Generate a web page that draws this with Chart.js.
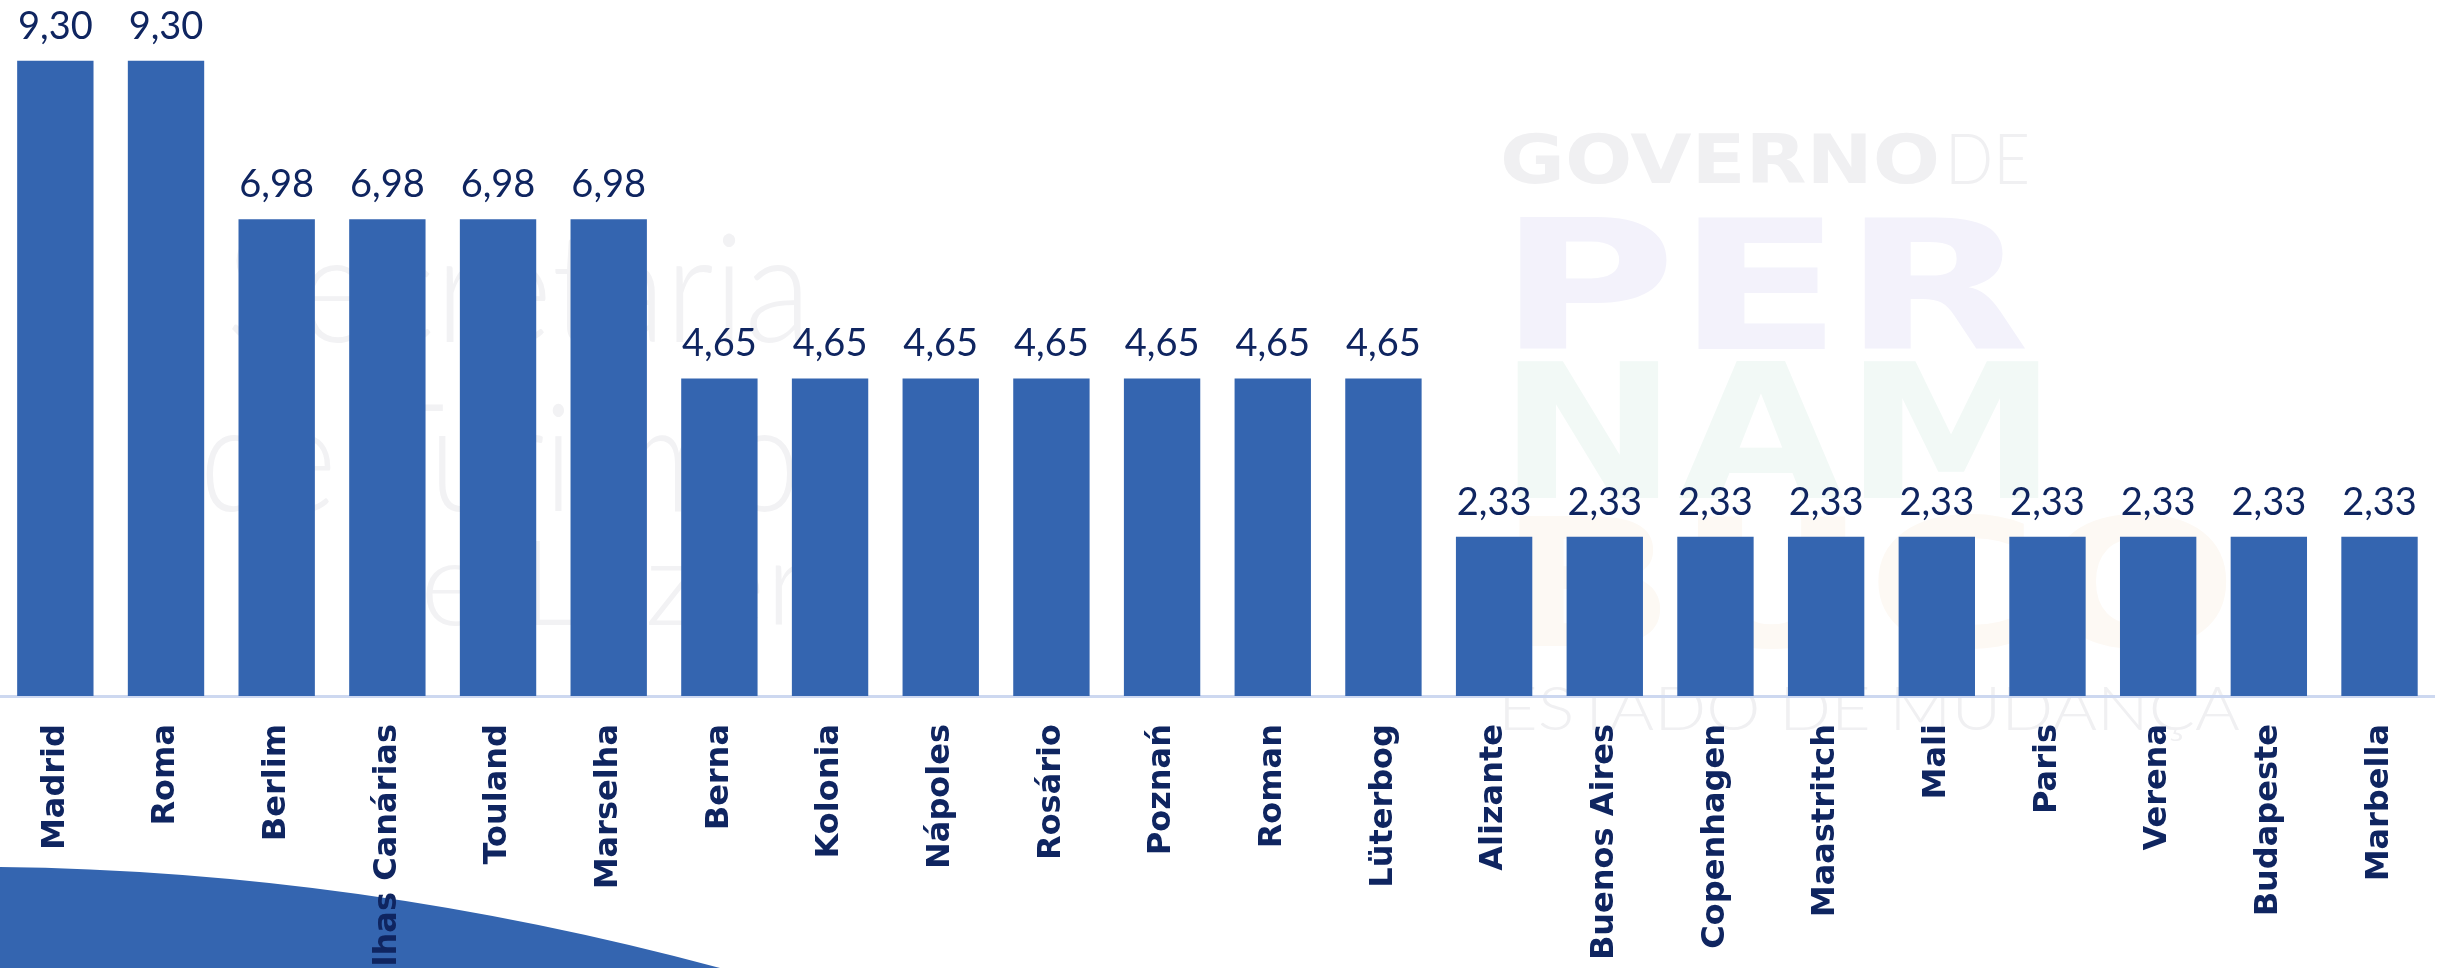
<!DOCTYPE html>
<html>
<head>
<meta charset="utf-8">
<script src="https://cdn.jsdelivr.net/npm/chart.js@4.4.1/dist/chart.umd.min.js"></script>
<style>
    html, body { margin: 0; padding: 0; background: #ffffff; }
    #wrap { width: 2446px; height: 968px; position: relative; }
</style>
</head>
<body>
<div id="wrap"><canvas id="destinosChart"></canvas></div>
<script>
// Dados do gráfico
const cidades = ['Madrid', 'Roma', 'Berlim', 'Ilhas Canárias', 'Touland', 'Marselha', 'Berna', 'Kolonia',
    'Nápoles', 'Rosário', 'Poznań', 'Roman', 'Lüterbog', 'Alizante', 'Buenos Aires', 'Copenhagen',
    'Maastritch', 'Mali', 'Paris', 'Verena', 'Budapeste', 'Marbella'];
const percentuais = [9.30, 9.30, 6.98, 6.98, 6.98, 6.98, 4.65, 4.65, 4.65, 4.65, 4.65, 4.65, 4.65,
    2.33, 2.33, 2.33, 2.33, 2.33, 2.33, 2.33, 2.33, 2.33];
const eixoY = { min: 0, max: 10 };

const azulBarra = '#3465b0';
const azulTexto = '#0f2560';

// escreve um texto esticado dentro de uma caixa (marca d'água)
function textoNaCaixa(ctx, txt, x, y, w, h, font, color) {
    ctx.save();
    ctx.font = font;
    ctx.fillStyle = color;
    ctx.textBaseline = 'alphabetic';
    const m = ctx.measureText(txt);
    const asc = m.actualBoundingBoxAscent;
    const desc = m.actualBoundingBoxDescent;
    ctx.translate(x, y);
    ctx.scale(w / m.width, h / (asc + desc));
    ctx.fillText(txt, 0, asc);
    ctx.restore();
}

// fundo: marca d'água e forma azul no canto
const fundoPlugin = {
    id: 'fundo',
    beforeDraw(chart) {
        const ctx = chart.ctx;
        ctx.save();
        ctx.fillStyle = '#ffffff';
        ctx.fillRect(0, 0, chart.width, chart.height);

        const leve = '300 100px Lato';
        textoNaCaixa(ctx, 'Secretaria', 226, 232, 585, 112, leve, '#f2f2f4');
        textoNaCaixa(ctx, 'de Turismo', 200, 400, 600, 112, leve, '#f2f2f4');
        textoNaCaixa(ctx, 'e Lazer', 420, 540, 390, 86, leve, '#f2f2f4');

        textoNaCaixa(ctx, 'GOVERNO', 1500, 133, 440, 51, 'bold 100px "DejaVu Sans"', '#f0f0f2');
        textoNaCaixa(ctx, 'DE', 1945, 133, 85, 51, '300 100px Lato', '#f0f0f2');
        textoNaCaixa(ctx, 'PER', 1498, 218, 532, 133, 'bold 100px "DejaVu Sans"', '#f3f2fb');
        textoNaCaixa(ctx, 'NAM', 1498, 362, 560, 138, 'bold 100px "DejaVu Sans"', '#f2f9f6');
        textoNaCaixa(ctx, 'BUCO', 1498, 512, 740, 136, 'bold 100px "DejaVu Sans"', '#fdf9f4');
        textoNaCaixa(ctx, 'ESTADO DE MUDANÇA', 1498, 686, 742, 55, '300 100px Lato', '#f0f0f2');

        // forma azul inferior esquerda
        ctx.beginPath();
        ctx.moveTo(0, 867);
        ctx.quadraticCurveTo(360, 871, 720, 968);
        ctx.lineTo(0, 968);
        ctx.closePath();
        ctx.fillStyle = azulBarra;
        ctx.fill();
        ctx.restore();
    }
};

// rótulos de valor acima das barras
const rotulosPlugin = {
    id: 'rotulos',
    afterDatasetsDraw(chart) {
        const ctx = chart.ctx;
        const meta = chart.getDatasetMeta(0);
        ctx.save();
        ctx.font = '38px Lato';
        ctx.fillStyle = azulTexto;
        ctx.textAlign = 'center';
        ctx.textBaseline = 'alphabetic';
        meta.data.forEach((bar, i) => {
            const txt = percentuais[i].toFixed(2).replace('.', ',');
            ctx.fillText(txt, bar.x, bar.y - 22);
        });
        ctx.restore();
    }
};

const ctx = document.getElementById('destinosChart').getContext('2d');
new Chart(ctx, {
    type: 'bar',
    data: {
        labels: cidades,
        datasets: [{
            data: percentuais,
            backgroundColor: azulBarra,
            borderWidth: 0,
            barPercentage: 0.69,
            categoryPercentage: 1.0
        }]
    },
    options: {
        responsive: true,
        maintainAspectRatio: false,
        animation: false,
        layout: { padding: { top: 13, left: 0, right: 4, bottom: 0 } },
        plugins: {
            legend: { display: false },
            tooltip: { enabled: false }
        },
        scales: {
            x: {
                grid: { display: false, drawTicks: false },
                border: { display: true, color: '#cdd8f0', width: 3 },
                ticks: {
                    autoSkip: false,
                    maxRotation: 90,
                    minRotation: 90,
                    padding: 28,
                    color: azulTexto,
                    font: { family: 'DejaVu Sans', weight: 'bold', size: 32 }
                },
                afterFit(scale) { scale.height = 272; }
            },
            y: {
                display: false,
                min: eixoY.min,
                max: eixoY.max
            }
        }
    },
    plugins: [fundoPlugin, rotulosPlugin]
});
</script>
</body>
</html>
